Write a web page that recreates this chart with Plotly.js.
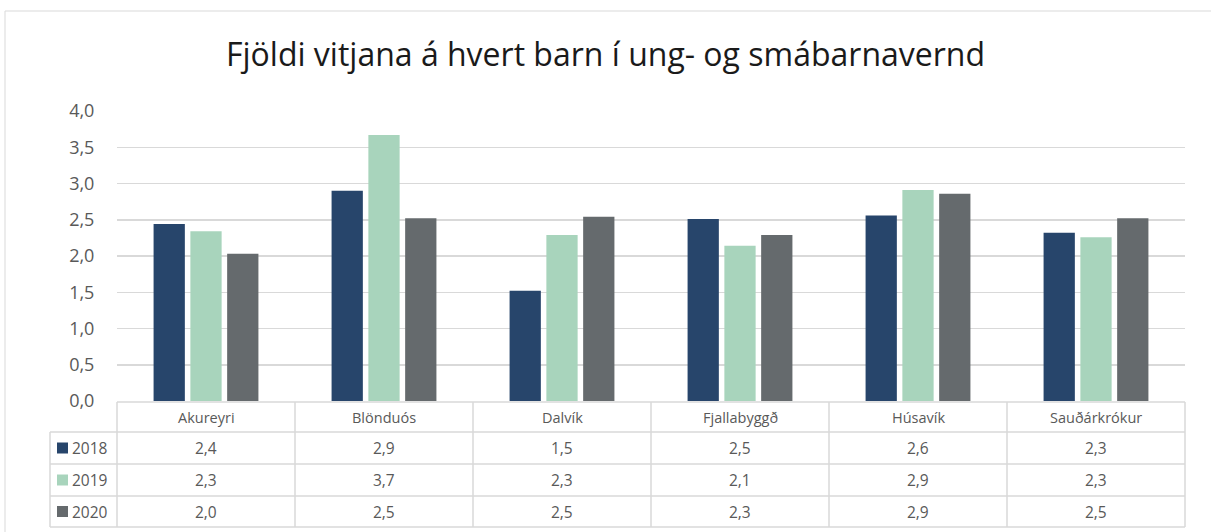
<!DOCTYPE html>
<html><head><meta charset="utf-8">
<script src="https://cdn.plot.ly/plotly-3.0.1.min.js"></script>
<style>html,body{margin:0;padding:0;background:#fff}</style>
</head><body>
<div id="chart" style="width:1211px;height:532px"></div>
<script>
const categories = ['Akureyri','Blönduós','Dalvík','Fjallabyggð','Húsavík','Sauðárkrókur'];
const seriesNames = ['2018','2019','2020'];
const values2018 = [2.44, 2.90, 1.52, 2.51, 2.56, 2.32];
const values2019 = [2.34, 3.67, 2.29, 2.14, 2.91, 2.26];
const values2020 = [2.03, 2.52, 2.54, 2.29, 2.86, 2.52];
const seriesValues = [values2018, values2019, values2020];
const seriesColors = ['#27456B', '#A8D4BC', '#656A6D'];
const titleText = 'Fjöldi vitjana á hvert barn í ung- og smábarnavernd';

const W = 1211, H = 532;
const M = {l: 117, r: 26, t: 111, b: 131};
const plotW = W - M.l - M.r, plotH = H - M.t - M.b;
const px2x = p => (p - M.l) / plotW;
const px2y = p => (H - M.b - p) / plotH;

const FONT = 'Open Sans, sans-serif';
const GRID = '#D9D9D9';
const TXT = '#595959';

const traces = seriesNames.map((name, i) => ({
  type: 'bar', name: name, x: categories, y: seriesValues[i],
  marker: {color: seriesColors[i], line: {width: 0}},
  hoverinfo: 'skip'
}));

// table geometry (pixels)
const hdrTop = 402, rowEdges = [432, 464, 496, 527];
const rowCenters = [448, 480, 511.5];
const legLeft = 50;

const shapes = [];
const line = (x0, y0, x1, y1) => shapes.push({type: 'line', xref: 'paper', yref: 'paper',
  x0, y0, x1, y1, line: {color: GRID, width: 1.5}});
// outer border
shapes.push({type: 'rect', xref: 'paper', yref: 'paper', x0: px2x(5), x1: px2x(1216),
  y0: px2y(545), y1: px2y(11), line: {color: GRID, width: 1}, fillcolor: 'rgba(0,0,0,0)'});
// horizontal table lines
line(0, px2y(hdrTop), 1, px2y(hdrTop));
rowEdges.forEach(r => line(px2x(legLeft), px2y(r), 1, px2y(r)));
// vertical lines
line(px2x(legLeft), px2y(rowEdges[0]), px2x(legLeft), px2y(rowEdges[3]));
for (let i = 0; i <= categories.length; i++) {
  const xf = i / categories.length;
  line(xf, px2y(hdrTop), xf, px2y(rowEdges[3]));
}
// legend keys
seriesNames.forEach((n, i) => {
  shapes.push({type: 'rect', xref: 'paper', yref: 'paper',
    x0: px2x(57), x1: px2x(68), y0: px2y(rowCenters[i] + 5.5), y1: px2y(rowCenters[i] - 5.5),
    line: {width: 0}, fillcolor: seriesColors[i]});
});

const fmt = v => v.toFixed(1).replace('.', ',');
const annotations = [];
categories.forEach((c, j) => {
  annotations.push({xref: 'x', yref: 'paper', x: c, y: px2y(417), text: c, showarrow: false,
    xanchor: 'center', yanchor: 'middle', font: {family: FONT, size: 14.5, color: TXT}});
  seriesValues.forEach((vals, i) => {
    annotations.push({xref: 'x', yref: 'paper', x: c, y: px2y(rowCenters[i]), text: fmt(vals[j]),
      showarrow: false, xanchor: 'center', yanchor: 'middle', font: {family: FONT, size: 15.5, color: TXT}});
  });
});
seriesNames.forEach((n, i) => {
  annotations.push({xref: 'paper', yref: 'paper', x: px2x(70), y: px2y(rowCenters[i]), text: n,
    showarrow: false, xanchor: 'left', yanchor: 'middle', font: {family: FONT, size: 15.5, color: TXT}});
});

const layout = {
  width: W, height: H,
  margin: M,
  paper_bgcolor: '#fff', plot_bgcolor: '#fff',
  separators: ',.',
  showlegend: false,
  title: {text: titleText, x: 0.5, xref: 'container', xanchor: 'center', y: 1 - 55 / H, yref: 'container', yanchor: 'middle',
    font: {family: FONT, size: 32, color: '#1a1a1a'}},
  barmode: 'group', bargap: 0.38, bargroupgap: 0.15,
  xaxis: {type: 'category', range: [-0.5, categories.length - 0.5], showticklabels: false,
    showgrid: false, zeroline: false, showline: false, ticks: ''},
  yaxis: {range: [0, 4], dtick: 0.5, tick0: 0, tickformat: '.1f', showgrid: true, gridcolor: GRID, gridwidth: 1.5,
    zeroline: false, showline: false, ticks: 'outside', ticklen: 18, tickcolor: 'rgba(0,0,0,0)',
    tickfont: {family: FONT, size: 18, color: TXT}},
  shapes, annotations
};

Plotly.newPlot('chart', traces, layout, {staticPlot: true, displayModeBar: false});
</script>
</body></html>
